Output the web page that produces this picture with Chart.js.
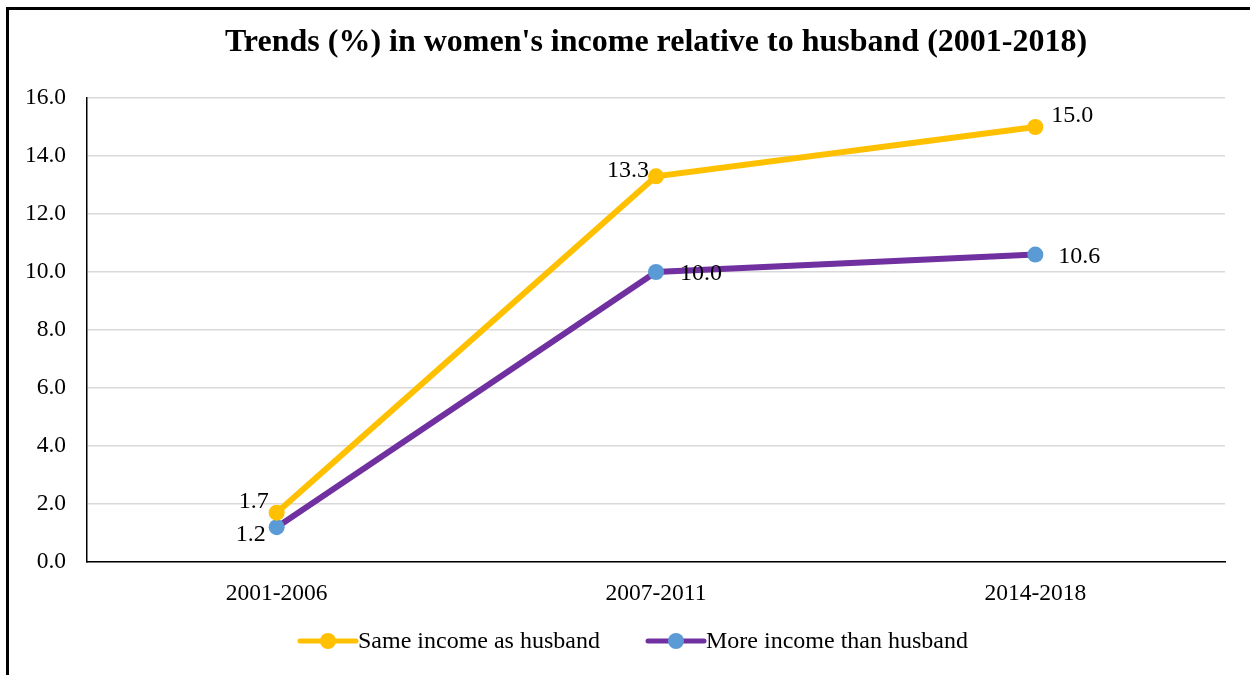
<!DOCTYPE html>
<html>
<head>
<meta charset="utf-8">
<title>Women's income relative to husband</title>
<script src="https://cdn.jsdelivr.net/npm/chart.js@4/dist/chart.umd.min.js"></script>
<style>
  html, body { margin: 0; padding: 0; background: #fff; }
  #wrap { width: 1250px; height: 675px; }
</style>
</head>
<body>
<div id="wrap"><canvas id="trendChart" width="1250" height="675"></canvas></div>
<script>
const periods    = ['2001-2006', '2007-2011', '2014-2018'];
const sameIncome = [1.7, 13.3, 15.0];
const moreIncome = [1.2, 10.0, 10.6];
const seriesNames = ['Same income as husband', 'More income than husband'];
const chartTitle = "Trends (%) in women's income relative to husband (2001-2018)";

const SERIF = '"Liberation Serif", "Times New Roman", serif';
const YELLOW = '#FFC000';
const PURPLE = '#7030A0';
const BLUE   = '#5B9BD5';

// where each value label sits relative to its point
const labelSpots = [
    [{ dx: -8, dy: -11, align: 'right' }, { dx: -7, dy: -6, align: 'right' }, { dx: 16, dy: -11, align: 'left' }],
    [{ dx: -11, dy: 8,  align: 'right' }, { dx: 24, dy: 2, align: 'left' }, { dx: 23, dy: 2, align: 'left' }]
];

const framePlugin = {
    id: 'frame',
    beforeDraw(chart) {
        const c = chart.ctx;
        c.save();
        c.fillStyle = '#fff';
        c.fillRect(0, 0, chart.width, chart.height);
        c.restore();
    },
    afterDraw(chart) {
        const c = chart.ctx;
        const area = chart.chartArea;
        c.save();

        // outer frame (runs off the right and bottom edges)
        c.strokeStyle = '#000';
        c.lineWidth = 3;
        c.strokeRect(7.5, 8.5, chart.width + 10, chart.height + 10);

        // title centred over the plot area
        c.fillStyle = '#000';
        c.font = 'bold 32px ' + SERIF;
        c.textAlign = 'center';
        c.textBaseline = 'alphabetic';
        c.fillText(chartTitle, (area.left + area.right) / 2, 51);

        // value labels
        c.font = '24px ' + SERIF;
        c.textBaseline = 'middle';
        chart.data.datasets.forEach((ds, i) => {
            const meta = chart.getDatasetMeta(i);
            meta.data.forEach((pt, j) => {
                const spot = labelSpots[i][j];
                c.textAlign = spot.align;
                c.fillText(ds.data[j].toFixed(1), pt.x + spot.dx, pt.y + spot.dy);
            });
        });

        // legend
        const legendY = 641;
        const items = [
            { x: 300, line: YELLOW, dot: YELLOW },
            { x: 648, line: PURPLE, dot: BLUE }
        ];
        c.textAlign = 'left';
        c.font = '24px ' + SERIF;
        items.forEach((it, i) => {
            c.strokeStyle = it.line;
            c.lineWidth = 5;
            c.lineCap = 'round';
            c.beginPath();
            c.moveTo(it.x, legendY);
            c.lineTo(it.x + 56, legendY);
            c.stroke();
            c.fillStyle = it.dot;
            c.beginPath();
            c.arc(it.x + 28, legendY, 8, 0, Math.PI * 2);
            c.fill();
            c.fillStyle = '#000';
            c.fillText(seriesNames[i], it.x + 58, legendY + 1);
        });
        c.restore();
    }
};

new Chart(document.getElementById('trendChart'), {
    type: 'line',
    data: {
        labels: periods,
        datasets: [
            {
                label: seriesNames[0],
                data: sameIncome,
                borderColor: YELLOW,
                backgroundColor: YELLOW,
                pointBackgroundColor: YELLOW,
                pointBorderColor: YELLOW,
                borderWidth: 6,
                pointRadius: 8,
                pointBorderWidth: 0,
                tension: 0
            },
            {
                label: seriesNames[1],
                data: moreIncome,
                borderColor: PURPLE,
                backgroundColor: PURPLE,
                pointBackgroundColor: BLUE,
                pointBorderColor: BLUE,
                borderWidth: 6,
                pointRadius: 8,
                pointBorderWidth: 0,
                tension: 0
            }
        ]
    },
    options: {
        responsive: false,
        animation: false,
        layout: { padding: { top: 98, right: 25, bottom: 0, left: 0 } },
        plugins: {
            legend: { display: false },
            title: { display: false },
            tooltip: { enabled: false }
        },
        scales: {
            x: {
                offset: true,
                grid: { display: false },
                border: { display: true, color: '#000', width: 1.5 },
                ticks: { color: '#000', font: { family: SERIF, size: 23.5 }, padding: 10 },
                afterFit(scale) { scale.height = 113; }
            },
            y: {
                min: 0,
                max: 16,
                grid: { color: '#d9d9d9', lineWidth: 1.5, drawTicks: false },
                border: { display: true, color: '#000', width: 1.5 },
                ticks: {
                    stepSize: 2,
                    color: '#000',
                    padding: 21,
                    font: { family: SERIF, size: 23.5 },
                    callback: v => v.toFixed(1)
                },
                afterFit(scale) { scale.width = 87; }
            }
        }
    },
    plugins: [framePlugin]
});
</script>
</body>
</html>
